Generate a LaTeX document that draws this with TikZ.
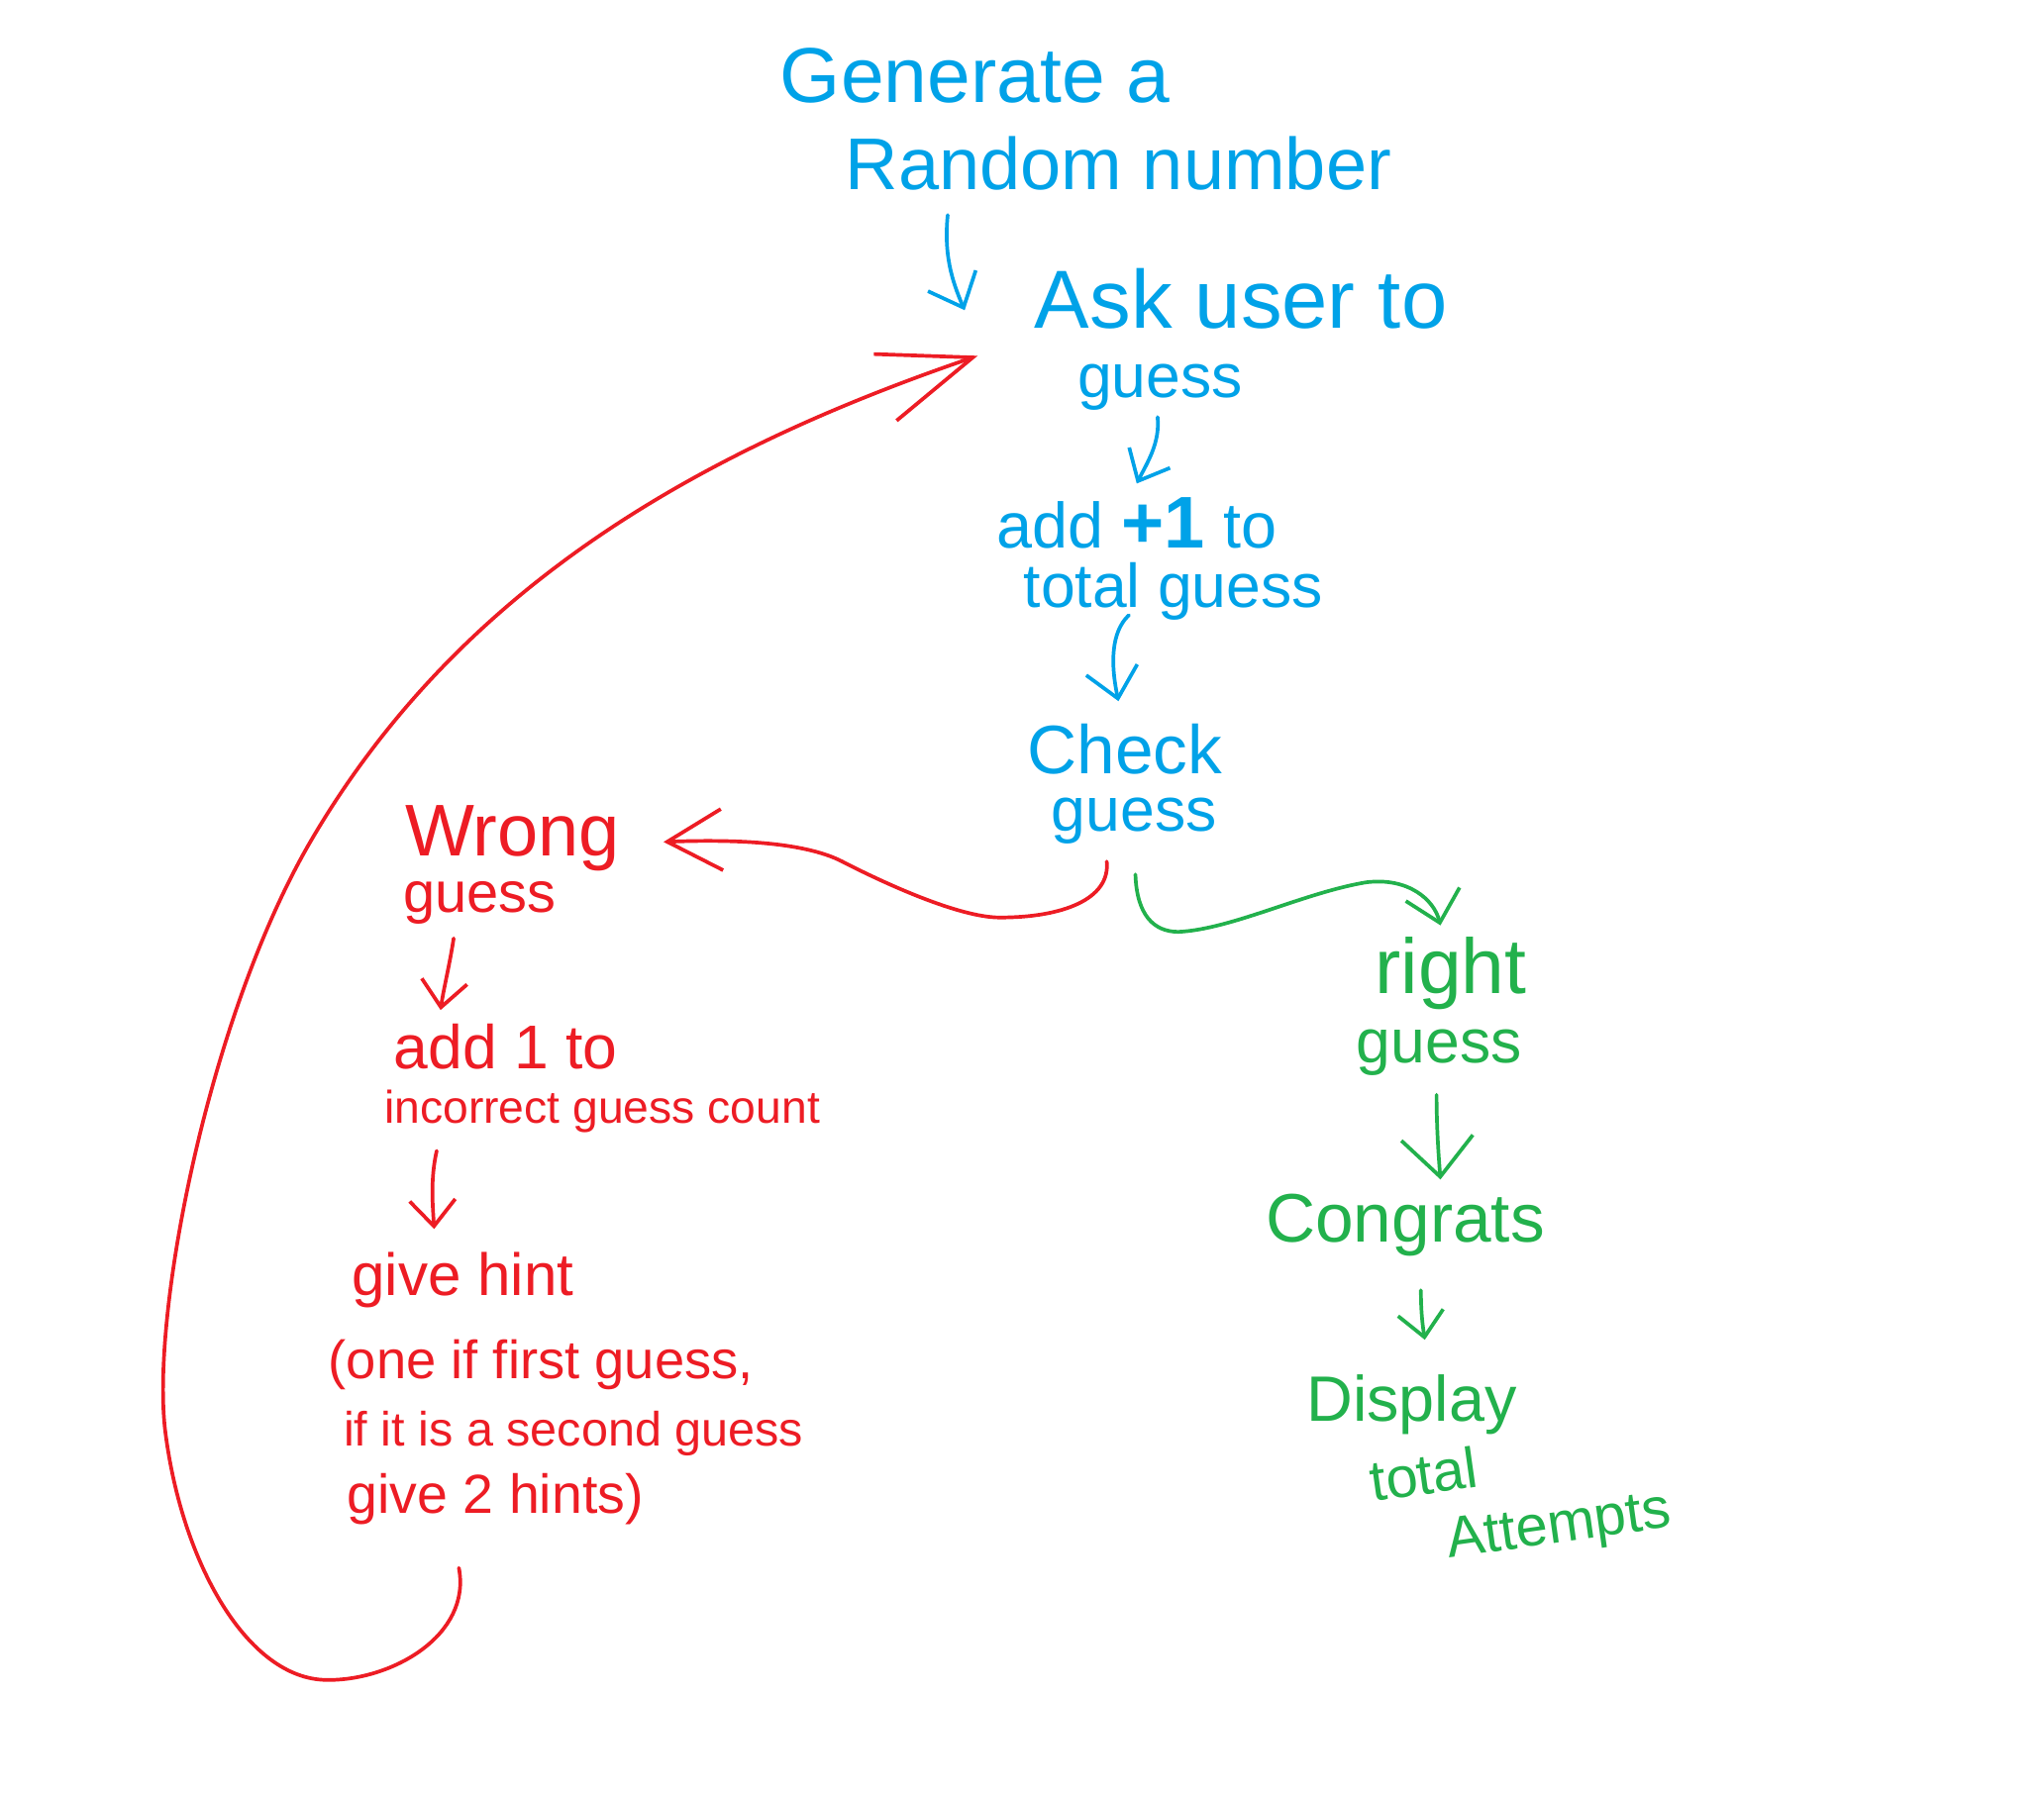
\documentclass[tikz,border=0pt]{standalone}
\usepackage{fontspec}
\setmainfont{Liberation Sans}
\usetikzlibrary{arrows.meta,calc}
\definecolor{pblue}{HTML}{00A2E8}
\definecolor{pred}{HTML}{ED1C24}
\definecolor{pgreen}{HTML}{22B14C}
\newcommand\fsz[1]{\fontsize{#1}{#1}\selectfont}
\begin{document}
\begin{tikzpicture}[x=0.02cm,y=-0.02cm,
  txt/.style={inner sep=0pt,anchor=center},
  bluetxt/.style={txt,text=pblue},
  redtxt/.style={txt,text=pred},
  greentxt/.style={txt,text=pgreen},
  conn/.style={line width=1.6pt,line cap=round,line join=round},
  smallarrow/.style={conn,-{Straight Barb[length=0.45cm,width=0.8cm]}},
]
\useasboundingbox (0,0) rectangle (1568,1377);
\fill[white] (0,0) rectangle (1568,1377);

% blue nodes
\node[bluetxt] (gen) at (748,58) {\fsz{34}Generate a};
\node[bluetxt] (rand) at (858,125) {\fsz{32}Random number};
\node[bluetxt] (ask) at (952,229) {\fsz{36}Ask user to};
\node[bluetxt] (guessA) at (890,297) {\fsz{27}guess};
\node[bluetxt] (addA) at (872,401) {\fsz{28}add \textbf{\fsz{32}+1} to};
\node[bluetxt] (totalA) at (900,454) {\fsz{27}total guess};
\node[bluetxt] (check) at (863,575) {\fsz{30}Check};
\node[bluetxt] (guessB) at (870,630) {\fsz{27}guess};

% red nodes
\node[redtxt] (wrong) at (393,643) {\fsz{32}Wrong};
\node[redtxt] (guessC) at (368,693) {\fsz{25}guess};
\node[redtxt] (addB) at (388,803) {\fsz{27}add 1 to};
\node[redtxt] (incorrect) at (462,853) {\fsz{20}incorrect guess count};
\node[redtxt] (hint) at (355,982) {\fsz{26}give hint};
\node[redtxt] (hintA) at (415,1047) {\fsz{23.5}(one if first guess,};
\node[redtxt] (hintB) at (440,1100) {\fsz{21}if it is a second guess};
\node[redtxt] (hintC) at (380,1150) {\fsz{24}give 2 hints)};

% green nodes
\node[greentxt] (right) at (1113,747) {\fsz{34}right};
\node[greentxt] (guessD) at (1104,808) {\fsz{27}guess};
\node[greentxt] (congrats) at (1078,940) {\fsz{30}Congrats};
\node[greentxt] (display) at (1083,1078) {\fsz{28}Display};
\node[greentxt,rotate=8] (totalB) at (1092,1131) {\fsz{25}total};
\node[greentxt,rotate=8] (attempts) at (1196,1173) {\fsz{25}Attempts};

% blue arrows
\draw[smallarrow,pblue] ($(rand)+(-131,40)$) .. controls (724,195) and (730,215) .. ($(ask)+(-212,9)$);
\draw[smallarrow,pblue,-{Straight Barb[length=0.4cm,width=0.7cm]}] ($(guessA)+(-2,23)$) .. controls (890,340) and (880,355) .. ($(addA)+(0,-30)$);
\draw[smallarrow,pblue] ($(totalA)+(-34,18)$) .. controls (852,485) and (852,510) .. ($(check)+(-5,-37)$);

% red arrows
\draw[smallarrow,pred,-{Straight Barb[length=0.4cm,width=0.7cm]}] ($(guessC)+(-20,27)$) .. controls (345,740) and (340,760) .. ($(addB)+(-50,-28)$);
\draw[smallarrow,pred,-{Straight Barb[length=0.4cm,width=0.7cm]}] ($(incorrect)+(-127,30)$) .. controls (330,905) and (332,925) .. ($(hint)+(-22,-39)$);
\draw[conn,pred,-{Straight Barb[length=0.84cm,width=0.94cm]}]
  ($(guessB)+(-21,31)$) .. controls (852,690) and (815,704) .. (767,704)
  .. controls (735,704) and (676,676.5) .. (646,661)
  .. controls (616,645.5) and (560,644) .. ($(wrong)+(116,3)$);
\draw[conn,pred,-{Straight Barb[length=1.42cm,width=1.08cm]}]
  ($(hintC)+(-28,53)$) .. controls (362,1255) and (300,1290) .. (250,1289)
  .. controls (190,1288) and (140,1200) .. (127,1100)
  .. controls (115,1010) and (160,780) .. (238,646)
  .. controls (354,447) and (542,344) .. ($(ask)+(-202,44)$);

% green arrows
\draw[conn,pgreen,-{Straight Barb[length=0.45cm,width=0.85cm]}]
  ($(guessB)+(1,41)$) .. controls (872,702) and (885,715) .. (904,715)
  .. controls (945,713) and (1000,685) .. (1048,677)
  .. controls (1080,673) and (1100,690) .. ($(right)+(-8,-37)$);
\draw[smallarrow,pgreen,-{Straight Barb[length=0.6cm,width=1.1cm]}] ($(guessD)+(-2,32)$) .. controls (1102,860) and (1103,880) .. ($(congrats)+(27,-35)$);
\draw[smallarrow,pgreen,-{Straight Barb[length=0.38cm,width=0.7cm]}] ($(congrats)+(12,50)$) .. controls (1090,1005) and (1091,1015) .. ($(display)+(10,-50)$);
\end{tikzpicture}
\end{document}
